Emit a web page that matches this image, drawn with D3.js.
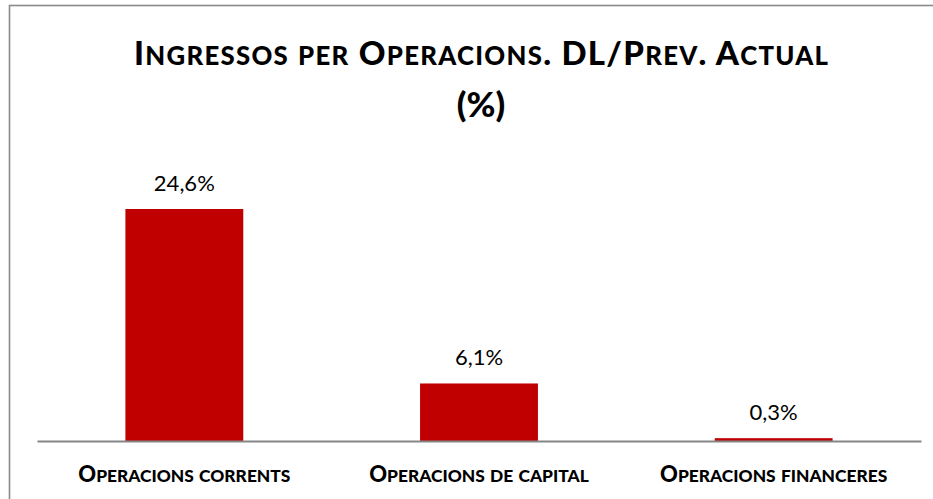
<!DOCTYPE html>
<html>
<head>
<meta charset="utf-8">
<script src="https://cdn.jsdelivr.net/npm/d3@7"></script>
<style>
  html, body { margin: 0; padding: 0; background: #fff; }
  svg { display: block; font-family: Lato, "Open Sans", sans-serif; }
</style>
</head>
<body>
<svg id="chart" width="933" height="499"></svg>
<script>
const categories = ["Operacions corrents", "Operacions de capital", "Operacions financeres"];
const values = [24.6, 6.1, 0.3];
const valueLabels = ["24,6%", "6,1%", "0,3%"];
const titleLines = ["Ingressos per Operacions. DL/Prev. Actual", "(%)"];

const svg = d3.select("#chart");

// outer border (right and bottom edges are cropped in the original)
svg.append("rect")
  .attr("x", 9.5).attr("y", 5.5)
  .attr("width", 940).attr("height", 520)
  .attr("fill", "#fff")
  .attr("stroke", "#8a8a8a").attr("stroke-width", 1.6);

const x = d3.scaleBand().domain(categories).range([37, 921]).paddingInner(0.6).paddingOuter(0.3);
const y = d3.scaleLinear().domain([0, 24.6]).range([441, 209]);

function smallCaps(textSel, str, size, ratio) {
  const runs = str.match(/[a-zà-ÿ]+|[^a-zà-ÿ]+/g);
  runs.forEach(r => {
    const lower = /[a-zà-ÿ]/.test(r[0]);
    textSel.append("tspan")
      .attr("font-size", lower ? size * ratio : size)
      .style("text-transform", lower ? "uppercase" : "none")
      .text(r);
  });
}

// title
const t1 = svg.append("text").attr("x", 481).attr("y", 65)
  .attr("text-anchor", "middle").attr("font-weight", 900).attr("fill", "#000");
smallCaps(t1, titleLines[0], 33, 0.78);
t1.attr("textLength", 694).attr("lengthAdjust", "spacing");
svg.append("text").attr("x", 481).attr("y", 117)
  .attr("text-anchor", "middle").attr("font-weight", 900).attr("font-size", 35)
  .text(titleLines[1]);

// bars
svg.append("g").selectAll("rect").data(values).join("rect")
  .attr("x", (d, i) => x(categories[i]))
  .attr("width", x.bandwidth())
  .attr("y", d => y(d))
  .attr("height", d => y(0) - y(d))
  .attr("fill", "#C00000");

// axis line
const axis = d3.axisBottom(x).tickSize(0).tickFormat("");
const gAxis = svg.append("g").attr("transform", `translate(0,${y(0)})`).call(axis);
gAxis.select(".domain").attr("stroke", "#868686").attr("stroke-width", 2);

// value labels
svg.append("g").selectAll("text").data(values).join("text")
  .attr("x", (d, i) => x(categories[i]) + x.bandwidth() / 2)
  .attr("y", d => y(d) - 18)
  .attr("text-anchor", "middle")
  .attr("font-size", 22)
  .attr("fill", "#000")
  .text((d, i) => valueLabels[i]);

// category labels
categories.forEach(c => {
  const t = svg.append("text")
    .attr("x", x(c) + x.bandwidth() / 2).attr("y", 482)
    .attr("text-anchor", "middle").attr("font-weight", 900).attr("fill", "#000");
  smallCaps(t, c, 22, 0.79);
});
</script>
</body>
</html>
